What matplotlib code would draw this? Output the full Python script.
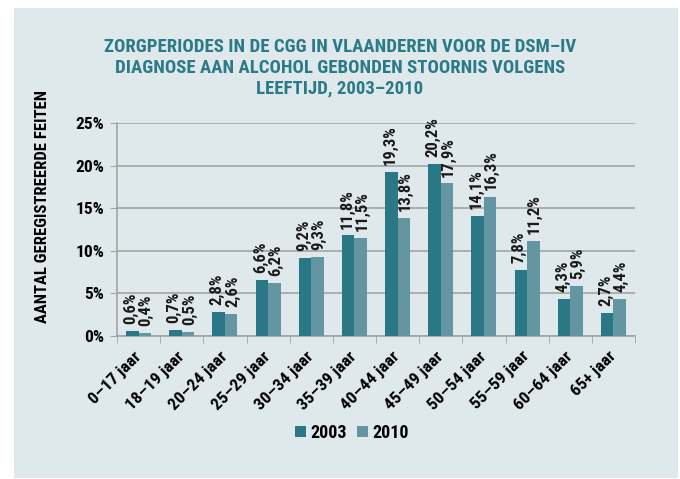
import matplotlib
matplotlib.use("Agg")
import matplotlib.pyplot as plt
import matplotlib.transforms as mtransforms
from matplotlib.patches import Rectangle
import numpy as np

categories = ["0–17 jaar", "18–19 jaar", "20–24 jaar", "25–29 jaar", "30–34 jaar",
              "35–39 jaar", "40–44 jaar", "45–49 jaar", "50–54 jaar", "55–59 jaar",
              "60–64 jaar", "65+ jaar"]
vals_2003 = [0.6, 0.7, 2.8, 6.6, 9.2, 11.8, 19.3, 20.2, 14.1, 7.8, 4.3, 2.7]
vals_2010 = [0.4, 0.5, 2.6, 6.2, 9.3, 11.5, 13.8, 17.9, 16.3, 11.2, 5.9, 4.4]
yticks = [0, 5, 10, 15, 20, 25]

fam = ["Roboto Condensed", "Liberation Sans Narrow", "Liberation Sans", "DejaVu Sans"]
plt.rcParams["font.family"] = fam
plt.rcParams["font.weight"] = "bold"

c03 = "#2a7886"
c10 = "#6495a2"
bg = "#dfe8eb"

fig = plt.figure(figsize=(6.8, 4.79), dpi=100)
fig.patch.set_facecolor("white")
fig.patches.append(Rectangle((14 / 680, 1 / 479), 664 / 680, 470 / 479,
                             transform=fig.transFigure, facecolor=bg,
                             edgecolor="none", zorder=-10))

ax = fig.add_axes([117 / 680, 1 - 336 / 479, 518 / 680, 213 / 479])
ax.set_facecolor(bg)

x = np.arange(len(categories))
w = 0.29
b1 = ax.bar(x - w / 2, vals_2003, w, color=c03, label="2003", zorder=3)
b2 = ax.bar(x + w / 2, vals_2010, w, color=c10, label="2010", zorder=3)

# value labels, nudged apart a little so pairs don't collide
for bars, vals, dx in [(b1, vals_2003, -1), (b2, vals_2010, 1)]:
    for r, v in zip(bars, vals):
        ax.annotate(("%.1f%%" % v).replace(".", ","),
                    (r.get_x() + r.get_width() / 2, v),
                    xytext=(dx, 5), textcoords="offset points", rotation=90,
                    ha="center", va="bottom", fontsize=12, fontweight="bold",
                    color="#1a1a1a")

ax.set_xlim(-0.5, len(categories) - 0.5)
ax.set_ylim(0, 25)
ax.set_yticks(yticks)
ax.set_yticklabels(["%d%%" % t for t in yticks], fontsize=12.5, fontweight="bold")
ax.yaxis.grid(True, color="#a4a4a4", linewidth=1.2, zorder=0)
ax.set_axisbelow(True)

ax.set_xticks(x)
ax.set_xticklabels(categories, rotation=45, ha="right", va="center",
                   rotation_mode="anchor", fontsize=12.5, fontweight="bold")
shift = mtransforms.ScaledTranslation(6 / 72, 0, fig.dpi_scale_trans)
for lab in ax.get_xticklabels():
    lab.set_transform(lab.get_transform() + shift)
ax.set_xticks(np.arange(-0.5, len(categories)), minor=True)
ax.tick_params(axis="x", which="major", length=0, pad=13)
ax.tick_params(axis="x", which="minor", length=5, color="#a4a4a4")
ax.tick_params(axis="y", length=5, color="#a4a4a4", pad=4)

for s in ["top", "right"]:
    ax.spines[s].set_visible(False)
for s in ["left", "bottom"]:
    ax.spines[s].set_color("#a4a4a4")
    ax.spines[s].set_linewidth(1.2)

ax.set_ylabel("AANTAL GEREGISTREERDE FEITEN", fontsize=12, fontweight="bold")
ax.yaxis.set_label_coords(-0.13, 0.606)

fig.text(0.5, 1 - 68 / 479,
         "ZORGPERIODES IN DE CGG IN VLAANDEREN VOOR DE DSM–IV\n"
         "DIAGNOSE AAN ALCOHOL GEBONDEN STOORNIS VOLGENS\n"
         "LEEFTIJD, 2003–2010",
         ha="center", va="center", fontsize=13.5, fontweight="bold",
         color="#2b7a87", linespacing=1.2)

fig.legend(handles=[b1, b2], labels=["2003", "2010"], loc="center",
           bbox_to_anchor=(352 / 680, 1 - 433 / 479), ncol=2, frameon=False,
           handlelength=0.6, handleheight=0.6, handletextpad=0.25,
           columnspacing=0.6, prop={"size": 13, "weight": "bold"})

fig.savefig("out.png", dpi=100, facecolor=fig.get_facecolor())
